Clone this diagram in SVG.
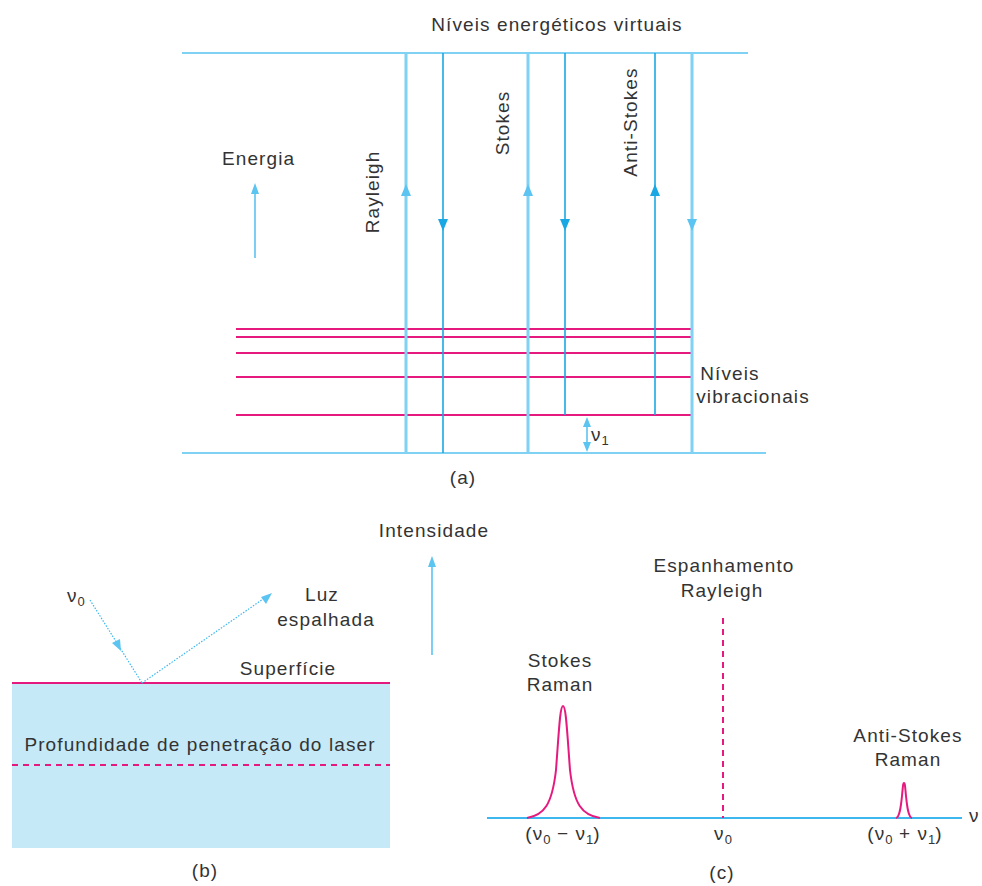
<svg xmlns="http://www.w3.org/2000/svg" width="982" height="886" viewBox="0 0 982 886">
<style>
text{font-family:"Liberation Sans",Arial,sans-serif;font-size:19px;letter-spacing:1.1px;fill:#333}
.c{text-anchor:middle}
.sub{font-size:13px;letter-spacing:0}
.thick{stroke:#7fd2f4;stroke-width:3;fill:none}
.thin{stroke:#1aa8e4;stroke-width:1.6;fill:none}
.lvl{stroke:#7fd2f4;stroke-width:2;fill:none}
.pink{stroke:#e6197f;stroke-width:2;fill:none}
.ah{fill:#1aa8e4}
.ahl{fill:#5cc4f0}
</style>
<rect width="982" height="886" fill="#fff"/>
<g id="panel-a">
  <text class="c" x="557" y="31">Níveis energéticos virtuais</text>
  <line class="lvl" x1="182" y1="53" x2="748" y2="53"/>
  <line class="lvl" x1="182" y1="453" x2="766" y2="453"/>
  <g id="vib-levels">
    <line class="pink" x1="236" y1="329" x2="692" y2="329"/>
    <line class="pink" x1="236" y1="337" x2="692" y2="337"/>
    <line class="pink" x1="236" y1="353" x2="692" y2="353"/>
    <line class="pink" x1="236" y1="377" x2="692" y2="377"/>
    <line class="pink" x1="236" y1="415" x2="692" y2="415"/>
  </g>
  <g id="transitions">
    <line class="thick" x1="406" y1="53" x2="406" y2="453"/>
    <polygon class="ahl" points="406,184 401,196 411,196"/>
    <line class="thin" x1="443" y1="53" x2="443" y2="453"/>
    <polygon class="ah" points="443,231 438,219 448,219"/>
    <line class="thick" x1="528" y1="53" x2="528" y2="453"/>
    <polygon class="ahl" points="528,184 523,196 533,196"/>
    <line class="thin" x1="565" y1="53" x2="565" y2="415"/>
    <polygon class="ah" points="565,231 560,219 570,219"/>
    <line class="thin" x1="655" y1="53" x2="655" y2="415"/>
    <polygon class="ah" points="655,184 650,196 660,196"/>
    <line class="thick" x1="692" y1="53" x2="692" y2="453"/>
    <polygon class="ahl" points="692,231 687,219 697,219"/>
  </g>
  <text class="c" transform="translate(379,192) rotate(-90)">Rayleigh</text>
  <text class="c" transform="translate(509,123) rotate(-90)">Stokes</text>
  <text class="c" transform="translate(637,122) rotate(-90)">Anti-Stokes</text>
  <g id="energia">
    <text x="222" y="165">Energia</text>
    <line class="thin" x1="255" y1="258" x2="255" y2="192" style="stroke:#5cc4f0"/>
    <polygon class="ahl" points="255,183 251,194 259,194"/>
  </g>
  <text class="c" x="730" y="380">Níveis</text>
  <text class="c" x="753" y="403">vibracionais</text>
  <g id="nu1">
    <line class="thin" x1="587" y1="424" x2="587" y2="446" style="stroke:#5cc4f0"/>
    <polygon class="ahl" points="587,417 583,427 591,427"/>
    <polygon class="ahl" points="587,452 583,442 591,442"/>
    <text x="591" y="441">ν<tspan class="sub" dy="4">1</tspan></text>
  </g>
  <text class="c" x="463" y="484">(a)</text>
</g>
<g id="panel-b">
  <rect x="12" y="683" width="378" height="165" fill="#c6e9f8"/>
  <line class="pink" x1="12" y1="683" x2="390" y2="683"/>
  <line class="pink" x1="12" y1="765" x2="390" y2="765" stroke-dasharray="6 5"/>
  <text class="c" x="200" y="751">Profundidade de penetração do laser</text>
  <text class="c" x="288" y="675">Superfície</text>
  <text x="67" y="602">ν<tspan class="sub" dy="4">0</tspan></text>
  <line x1="90" y1="600" x2="142" y2="683" stroke="#3db8ee" stroke-width="1.2" stroke-dasharray="1.5 1.5"/>
  <polygon class="ahl" points="121,651 112,643 120,639"/>
  <line x1="142" y1="683" x2="266" y2="597" stroke="#3db8ee" stroke-width="1.2" stroke-dasharray="1.5 1.5"/>
  <polygon class="ahl" points="272,593 261,597 266,604"/>
  <text class="c" x="322" y="601">Luz</text>
  <text class="c" x="326" y="626">espalhada</text>
  <text class="c" x="205" y="877">(b)</text>
</g>
<g id="panel-c">
  <text class="c" x="434" y="537">Intensidade</text>
  <line class="thin" x1="432" y1="655" x2="432" y2="564" style="stroke:#5cc4f0"/>
  <polygon class="ahl" points="432,556 428,567 436,567"/>
  <line x1="487" y1="818" x2="962" y2="818" stroke="#3db8ee" stroke-width="2"/>
  <text x="969" y="822">ν</text>
  <line class="pink" x1="723" y1="618" x2="723" y2="818" stroke-dasharray="6 5"/>
  <text class="c" x="724" y="572">Espanhamento</text>
  <text class="c" x="722" y="597">Rayleigh</text>
  <path class="pink" d="M527,818 C544,815 552,805 556,770 C559,730 560,706 563,706 C566,706 567,730 570,770 C574,805 582,815 600,818"/>
  <path class="pink" d="M896,818 C900,817 901,805 902,796 C903,786 903,783 904,783 C905,783 905,786 906,796 C907,805 908,817 912,818"/>
  <text class="c" x="560" y="667">Stokes</text>
  <text class="c" x="560" y="691">Raman</text>
  <text class="c" x="908" y="742">Anti-Stokes</text>
  <text class="c" x="908" y="766">Raman</text>
  <text class="c" x="563" y="840">(ν<tspan class="sub" dy="4">0</tspan><tspan dy="-4"> − ν</tspan><tspan class="sub" dy="4">1</tspan><tspan dy="-4">)</tspan></text>
  <text class="c" x="723" y="840">ν<tspan class="sub" dy="4">0</tspan></text>
  <text class="c" x="905" y="840">(ν<tspan class="sub" dy="4">0</tspan><tspan dy="-4"> + ν</tspan><tspan class="sub" dy="4">1</tspan><tspan dy="-4">)</tspan></text>
  <text class="c" x="722" y="879">(c)</text>
</g>
</svg>
